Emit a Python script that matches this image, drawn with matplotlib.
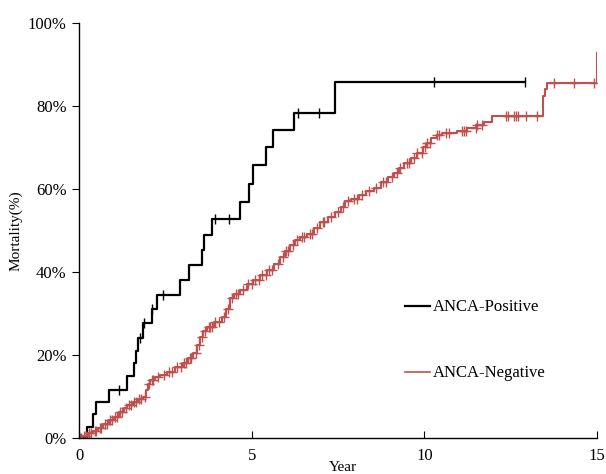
import numpy as np
import matplotlib
matplotlib.use("Agg")
import matplotlib.pyplot as plt
from matplotlib.lines import Line2D

# ANCA-Positive: event times (years) and cumulative mortality (%)
pos_t = [0.0, 0.23, 0.40, 0.49, 0.87, 1.39, 1.60, 1.65, 1.72, 1.84, 2.10, 2.25, 2.93, 3.18,
         3.56, 3.62, 3.85, 4.67, 4.91, 5.03, 5.42, 5.61, 6.21, 7.40, 12.9]
pos_y = [0.0, 2.7, 5.9, 8.6, 11.6, 14.9, 18.0, 21.0, 24.2, 27.6, 31.1, 34.4, 38.1, 41.7,
         45.3, 48.9, 52.7, 56.9, 61.2, 65.8, 70.0, 74.2, 78.4, 85.7, 85.7]
pos_cens = [1.16, 1.76, 1.88, 2.10, 2.42, 3.94, 4.33, 6.34, 6.94, 10.27, 12.9]

# ANCA-Negative
neg_t = [0.0, 0.1, 0.25, 0.4, 0.55, 0.7, 0.87, 1.0, 1.15, 1.3, 1.39, 1.55, 1.7, 1.86, 1.95,
         2.0, 2.06, 2.2, 2.35, 2.55, 2.78, 3.0, 3.15, 3.31, 3.42, 3.51, 3.6, 3.7, 3.9, 4.14,
         4.25, 4.38, 4.5, 4.67, 4.85, 5.05, 5.25, 5.44, 5.65, 5.83, 5.95, 6.12, 6.25, 6.4,
         6.6, 6.8, 6.99, 7.2, 7.4, 7.57, 7.7, 7.86, 8.1, 8.3, 8.53, 8.75, 8.95, 9.11, 9.25,
         9.4, 9.6, 9.79, 9.95, 10.08, 10.2, 10.37, 10.5, 10.95, 11.24, 11.5, 11.73, 11.97,
         13.43, 13.5, 13.55, 15.0]
neg_y = [0.0, 0.5, 1.2, 1.8, 2.5, 3.3, 4.3, 5.0, 6.2, 7.2, 8.0, 8.6, 9.3, 10.0, 11.5,
         13.0, 14.0, 14.8, 15.2, 16.0, 17.0, 18.0, 19.3, 20.5, 22.5, 24.4, 25.8, 26.8, 28.0, 29.2,
         31.0, 33.7, 34.8, 35.7, 37.0, 38.1, 39.3, 40.5, 42.0, 43.7, 45.0, 46.5, 47.8, 48.5,
         49.2, 50.6, 52.1, 53.3, 54.5, 55.7, 57.0, 57.7, 58.5, 59.5, 60.2, 61.8, 62.8, 63.8, 65.0,
         66.2, 67.5, 68.6, 70.0, 71.0, 72.2, 73.0, 73.6, 74.0, 74.6, 75.5, 76.2, 77.6,
         82.4, 84.0, 85.5, 92.8]
neg_cens = [0.02, 0.05, 0.15, 0.2, 0.3, 0.35, 0.45, 0.5, 0.6, 0.65, 0.75, 0.8, 0.9, 0.95,
            1.05, 1.1, 1.2, 1.25, 1.35, 1.45, 1.5, 1.6, 1.65, 1.75, 1.8, 1.9, 2.03, 2.1,
            2.15, 2.3, 2.45, 2.6, 2.7, 2.85, 2.95, 3.05, 3.1, 3.2, 3.25, 3.38, 3.47, 3.55,
            3.65, 3.75, 3.8, 3.85, 3.95, 4.05, 4.2, 4.3, 4.42, 4.55, 4.6, 4.75, 4.9, 5.0,
            5.1, 5.2, 5.3, 5.4, 5.5, 5.6, 5.75, 5.9, 6.0, 6.05, 6.2, 6.3, 6.45, 6.5, 6.7,
            6.75, 6.9, 7.05, 7.1, 7.3, 7.5, 7.65, 7.8, 7.95, 8.05, 8.2, 8.4, 8.6, 8.8, 8.9,
            9.05, 9.2, 9.3, 9.5, 9.55, 9.69, 9.79, 9.93, 10.03, 10.08, 10.17, 10.37, 10.41,
            10.61, 10.71, 11.09, 11.14, 11.19, 11.48, 11.53, 11.67, 12.35, 12.42, 12.59,
            12.66, 12.71, 12.93, 13.25, 13.75, 14.33, 14.91]

x_ticks = [0, 5, 10, 15]
y_ticks = [0, 20, 40, 60, 80, 100]

RED = '#c0504d'
plt.rcParams['font.family'] = ['Liberation Serif', 'DejaVu Serif']

fig = plt.figure(figsize=(6.06, 4.74), dpi=100)
ax = fig.add_axes([0.1304, 0.0759, 0.855, 0.8756])


def step_val(ts, ys, t):
    idx = np.searchsorted(ts, t, side='right') - 1
    return np.asarray(ys)[idx]


ax.step(pos_t, pos_y, where='post', color='black', lw=1.6)
ax.plot(pos_cens, step_val(pos_t, pos_y, pos_cens), ls='none', marker='|',
        color='black', ms=7, mew=1.0)
ax.step(neg_t, neg_y, where='post', color=RED, lw=1.5)
ax.plot(neg_cens, step_val(neg_t, neg_y, neg_cens), ls='none', marker='+',
        color=RED, ms=6.5, mew=1.0)

ax.set_xlim(0, 15)
ax.set_ylim(0, 100)
ax.set_xticks(x_ticks)
ax.set_xticklabels([str(v) for v in x_ticks])
ax.set_yticks(y_ticks)
ax.set_yticklabels([f'{v}%' for v in y_ticks])
ax.tick_params(axis='x', direction='in', length=5, labelsize=12, pad=7)
ax.tick_params(axis='y', direction='out', length=5, labelsize=12, pad=4)
for s in ['top', 'right']:
    ax.spines[s].set_visible(False)
for s in ['left', 'bottom']:
    ax.spines[s].set_linewidth(1.0)
ax.set_xlabel('Year', fontsize=11, labelpad=-3)
ax.xaxis.set_label_coords(0.51, -0.055)
ax.set_ylabel('Mortality(%)', fontsize=11, labelpad=4)

h1 = Line2D([], [], color='black', lw=1.6)
h2 = Line2D([], [], color=RED, lw=1.2)
ax.legend([h1, h2], ['ANCA-Positive', 'ANCA-Negative'], loc='upper left',
          bbox_to_anchor=(0.60, 0.37), frameon=False, fontsize=12,
          handlelength=1.5, handletextpad=0.2, labelspacing=3.0)

fig.savefig('out.png', dpi=100)
